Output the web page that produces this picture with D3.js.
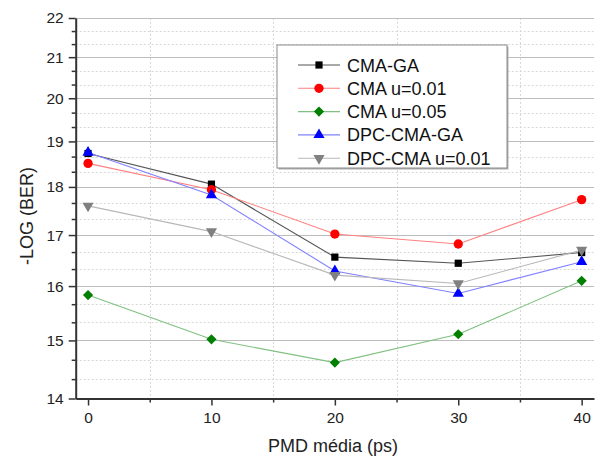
<!DOCTYPE html>
<html>
<head>
<meta charset="utf-8">
<script src="https://cdn.jsdelivr.net/npm/d3@7"></script>
<style>
  body { margin: 0; background: #fff; }
  svg { display: block; font-family: "Liberation Sans", Arial, sans-serif; }
</style>
</head>
<body>
<svg id="chart" width="606" height="459"></svg>
<script>
// PMD values (ps) on the x axis
const pmd = [0, 10, 20, 30, 40];

// -LOG(BER) for each equalizer
const cmaGA      = [18.73, 18.06, 16.56, 16.44, 16.65];
const cmaU001    = [18.51, 17.94, 17.02, 16.82, 17.73];
const cmaU005    = [15.83, 15.02, 14.61, 15.11, 16.10];
const dpcCmaGA   = [18.75, 17.83, 16.29, 15.86, 16.47];
const dpcCmaU001 = [17.60, 17.07, 16.21, 16.05, 16.70];

const seriesNames = ["CMA-GA", "CMA u=0.01", "CMA u=0.05", "DPC-CMA-GA", "DPC-CMA u=0.01"];

const xTicks = [0, 10, 20, 30, 40];
const xMinorTicks = [5, 15, 25, 35];
const yTicks = [14, 15, 16, 17, 18, 19, 20, 21, 22];

const xTitle = "PMD média (ps)";
const yTitle = "-LOG (BER)";

const series = [
  { name: seriesNames[0], values: cmaGA,      line: "#555555", fill: "#000000", symbol: d3.symbolSquare,   size: 52, rot: 0 },
  { name: seriesNames[1], values: cmaU001,    line: "#ff8080", fill: "#ff0000", symbol: d3.symbolCircle,   size: 68, rot: 0 },
  { name: seriesNames[2], values: cmaU005,    line: "#80c080", fill: "#007f00", symbol: d3.symbolSquare,   size: 52, rot: 45 },
  { name: seriesNames[3], values: dpcCmaGA,   line: "#8080ff", fill: "#0000ff", symbol: d3.symbolTriangle, size: 54, rot: 0 },
  { name: seriesNames[4], values: dpcCmaU001, line: "#b8b8b8", fill: "#808080", symbol: d3.symbolTriangle, size: 54, rot: 180 }
];

const svg = d3.select("#chart");

const x = d3.scaleLinear().domain([-1, 41]).range([75.7, 594]);
const y = d3.scaleLog().domain([14, 22]).range([398.5, 18]);

// minor y positions: two per interval, evenly spaced on the log axis
const yMinorTicks = [];
for (let i = 0; i < yTicks.length - 1; i++) {
  const a = Math.log10(yTicks[i]), b = Math.log10(yTicks[i + 1]);
  for (let k = 1; k <= 2; k++) yMinorTicks.push(Math.pow(10, a + (b - a) * k / 3));
}

// grid
const grid = svg.append("g");
grid.selectAll("line.ymin").data(yMinorTicks).join("line")
  .attr("x1", x(-1)).attr("x2", x(41))
  .attr("y1", d => Math.round(y(d)) + 0.5).attr("y2", d => Math.round(y(d)) + 0.5)
  .attr("stroke", "#d8d8d8").attr("stroke-dasharray", "2,2");
grid.selectAll("line.xmin").data(xMinorTicks).join("line")
  .attr("x1", d => Math.round(x(d)) + 0.5).attr("x2", d => Math.round(x(d)) + 0.5)
  .attr("y1", y(22)).attr("y2", y(14))
  .attr("stroke", "#d8d8d8").attr("stroke-dasharray", "2,2");
grid.selectAll("line.ymaj").data(yTicks.slice(1)).join("line")
  .attr("x1", x(-1)).attr("x2", x(41))
  .attr("y1", d => Math.round(y(d)) + 0.5).attr("y2", d => Math.round(y(d)) + 0.5)
  .attr("stroke", "#bdbdbd").attr("stroke-width", 1.2);

// axes
function styleAxis(g) {
  g.select(".domain").attr("stroke", "#333").attr("stroke-width", 2);
  g.selectAll(".tick line").attr("stroke", "#333").attr("stroke-width", 1.5);
  g.selectAll(".tick text").attr("fill", "#222").attr("font-size", 15.5)
    .attr("font-family", "Liberation Sans, Arial, sans-serif");
}

const yAxis = svg.append("g").attr("transform", `translate(${x(-1)},0)`)
  .call(d3.axisLeft(y).tickValues(yTicks).tickFormat(d3.format("d")).tickSize(7).tickPadding(5).tickSizeOuter(0));
styleAxis(yAxis);
const yMinor = svg.append("g").attr("transform", `translate(${x(-1)},0)`)
  .call(d3.axisLeft(y).tickValues(yMinorTicks).tickFormat("").tickSize(4).tickSizeOuter(0));
styleAxis(yMinor);
yMinor.select(".domain").remove();

const xAxis = svg.append("g").attr("transform", `translate(0,${y(14)})`)
  .call(d3.axisBottom(x).tickValues(xTicks).tickFormat(d3.format("d")).tickSize(7).tickPadding(6).tickSizeOuter(0));
styleAxis(xAxis);
const xMinor = svg.append("g").attr("transform", `translate(0,${y(14)})`)
  .call(d3.axisBottom(x).tickValues(xMinorTicks).tickFormat("").tickSize(4).tickSizeOuter(0));
styleAxis(xMinor);
xMinor.select(".domain").remove();

// axis titles
svg.append("text").attr("x", 333).attr("y", 452).attr("text-anchor", "middle")
  .attr("font-size", 18).attr("fill", "#222").text(xTitle);
svg.append("text").attr("transform", "translate(33,216) rotate(-90)").attr("text-anchor", "middle")
  .attr("font-size", 18).attr("fill", "#222").text(yTitle);

// series: line then markers
const line = d3.line().x((d, i) => x(pmd[i])).y(d => y(d));
series.forEach(s => {
  const g = svg.append("g");
  g.append("path").datum(s.values).attr("d", line)
    .attr("fill", "none").attr("stroke", s.line).attr("stroke-width", 1.1);
  g.selectAll("path.m").data(s.values).join("path")
    .attr("d", d3.symbol(s.symbol, s.size))
    .attr("transform", (d, i) => `translate(${x(pmd[i])},${y(d)}) rotate(${s.rot})`)
    .attr("fill", s.fill);
});

// legend
const lg = svg.append("g").attr("transform", "translate(277,45)");
lg.append("rect").attr("x", 1.5).attr("y", 1.5).attr("width", 230).attr("height", 123).attr("fill", "#b0b0b0");
lg.append("rect").attr("x", 0).attr("y", 0).attr("width", 230).attr("height", 123)
  .attr("fill", "#fff").attr("stroke", "#8a8a8a").attr("stroke-width", 1);
series.forEach((s, i) => {
  const cy = 20 + i * 23.3;
  lg.append("line").attr("x1", 21).attr("x2", 63).attr("y1", cy).attr("y2", cy)
    .attr("stroke", s.line).attr("stroke-width", 1.1);
  lg.append("path").attr("d", d3.symbol(s.symbol, s.size))
    .attr("transform", `translate(42,${cy}) rotate(${s.rot})`).attr("fill", s.fill);
  lg.append("text").attr("x", 70).attr("y", cy + 6.5).attr("font-size", 18).attr("fill", "#111").text(s.name);
});
</script>
</body>
</html>
